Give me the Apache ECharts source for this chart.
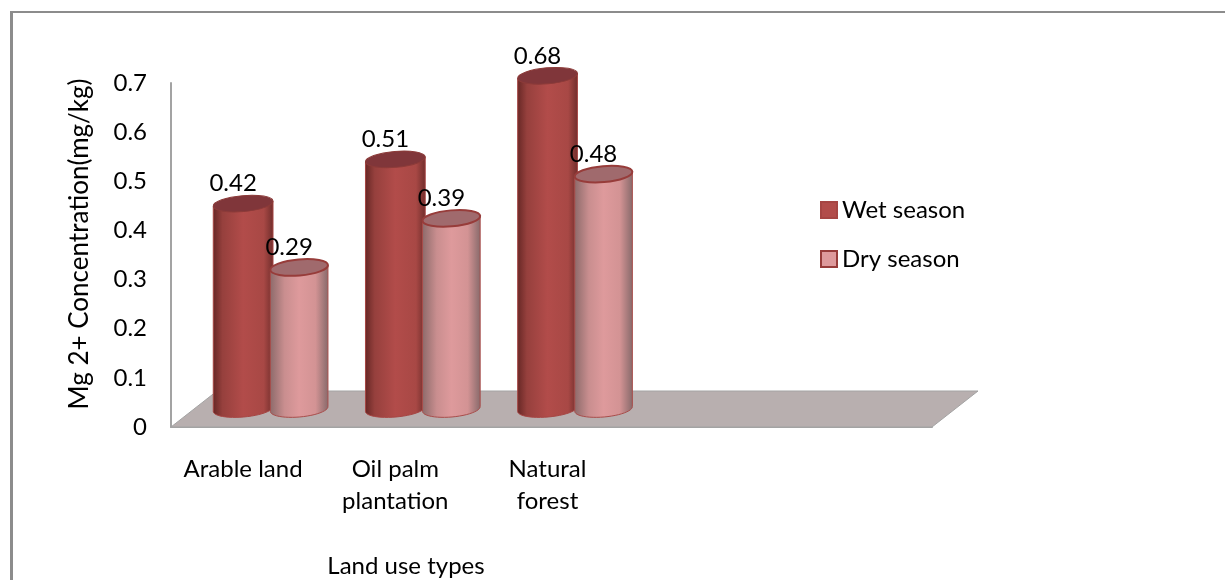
<!DOCTYPE html>
<html>
<head>
<meta charset="utf-8">
<title>Mg 2+ Concentration</title>
<script src="https://cdn.jsdelivr.net/npm/echarts@6/dist/echarts.min.js"></script>
<style>
	html, body { margin: 0; padding: 0; background: #fff; }
	#chart { width: 1225px; height: 580px; }
</style>
</head>
<body>
<div id="chart"></div>
<script>
const categories = ['Arable land', 'Oil palm\nplantation', 'Natural\nforest', '', ''];
const wetSeason = [0.42, 0.51, 0.68];
const drySeason = [0.29, 0.39, 0.48];
const yTicks = ['0', '0.1', '0.2', '0.3', '0.4', '0.5', '0.6', '0.7'];

const FONT = 'Lato, Carlito, sans-serif';
// 3D look: how far the floor runs back and how far the bars stand on it
const DEPTH_X = 46;
const DEPTH_Y = 36;
const BAR_LIFT = 17;
const TILT = -5 * Math.PI / 180;

function ellipsePoint(cx, cy, rx, ry, t) {
	return [
		cx + rx * Math.cos(t) * Math.cos(TILT) - ry * Math.sin(t) * Math.sin(TILT),
		cy + rx * Math.cos(t) * Math.sin(TILT) + ry * Math.sin(t) * Math.cos(TILT)
	];
}

function cylinder(look) {
	return function (params, api) {
		const value = api.value(1);
		const top = api.coord([api.value(0), value]);
		const base = api.coord([api.value(0), 0]);
		const band = api.size([1, 0])[0];
		const cx = top[0] + band * look.shift;
		const rx = band * look.radius;
		const ry = 8;
		const topY = top[1] - BAR_LIFT;
		const baseY = base[1] - BAR_LIFT - 1;

		const body = [ellipsePoint(cx, topY, rx, ry, Math.PI), ellipsePoint(cx, topY, rx, ry, 0)];
		for (let i = 0; i <= 24; i++) {
			body.push(ellipsePoint(cx, baseY, rx, ry, (i / 24) * Math.PI));
		}

		return {
			type: 'group',
			children: [
				{
					type: 'polygon',
					shape: { points: body },
					style: {
						fill: new echarts.graphic.LinearGradient(0, 0, 1, 0, look.stops),
						stroke: look.edge,
						lineWidth: 1
					}
				},
				{
					type: 'ellipse',
					shape: { cx: 0, cy: 0, rx: rx, ry: ry },
					x: cx,
					y: topY,
					rotation: -TILT,
					style: { fill: look.cap, stroke: look.capEdge, lineWidth: look.capWidth }
				},
				{
					type: 'text',
					x: cx - 10,
					y: topY - 20,
					style: {
						text: String(value),
						fill: '#000',
						font: '24px ' + FONT,
						textAlign: 'center',
						textVerticalAlign: 'middle'
					}
				}
			]
		};
	};
}

// 地面
function floor(params) {
	const box = params.coordSys;
	const left = box.x;
	const right = box.x + box.width;
	const bottom = box.y + box.height;
	return {
		type: 'group',
		children: [
			{
				type: 'polygon',
				shape: {
					points: [
						[left, bottom],
						[right, bottom],
						[right + DEPTH_X, bottom - DEPTH_Y],
						[left + DEPTH_X, bottom - DEPTH_Y]
					]
				},
				style: { fill: '#b8afaf', stroke: '#a3a3a3', lineWidth: 1 }
			}
		]
	};
}

const wetLook = {
	shift: -0.026,
	radius: 0.197,
	stops: [
		{ offset: 0, color: '#662725' },
		{ offset: 0.16, color: '#96403d' },
		{ offset: 0.5, color: '#b24c4a' },
		{ offset: 0.84, color: '#a84845' },
		{ offset: 1, color: '#6f2d2b' }
	],
	edge: '#a64543',
	cap: '#80363a',
	capEdge: '#8c3b39',
	capWidth: 1
};
const dryLook = {
	shift: 0.342,
	radius: 0.19,
	stops: [
		{ offset: 0, color: '#8c6a6a' },
		{ offset: 0.25, color: '#c98e8f' },
		{ offset: 0.5, color: '#de9a9c' },
		{ offset: 0.78, color: '#d39394' },
		{ offset: 1, color: '#86696a' }
	],
	edge: '#a94d4b',
	cap: '#a06a6d',
	capEdge: '#973c3a',
	capWidth: 2
};

const chart = echarts.init(document.getElementById('chart'), null, { renderer: 'canvas' });
chart.setOption({
	animation: false,
	grid: { left: 171, right: 293, top: 83, bottom: 153 },
	legend: {
		left: 820,
		top: 198,
		padding: 0,
		orient: 'vertical',
		itemWidth: 16,
		itemHeight: 16,
		itemGap: 25,
		textStyle: { fontFamily: FONT, fontSize: 24, lineHeight: 24, color: '#000' },
		data: [
			{ name: 'Wet season', icon: 'rect', itemStyle: { color: '#b24c4a', borderColor: '#a64543', borderWidth: 2 } },
			{ name: 'Dry season', icon: 'rect', itemStyle: { color: '#de9a9c', borderColor: '#973c3a', borderWidth: 2 } }
		]
	},
	xAxis: {
		type: 'category',
		data: categories,
		axisTick: { show: false },
		axisLine: { lineStyle: { color: '#a3a3a3', width: 2 } },
		axisLabel: {
			interval: 0,
			margin: 26,
			color: '#000',
			fontFamily: FONT,
			fontSize: 24,
			lineHeight: 32,
			padding: [0, 8, 0, 0]
		}
	},
	yAxis: {
		type: 'value',
		min: 0,
		max: 0.7,
		interval: 0.1,
		name: 'Mg 2+ Concentration(mg/kg)',
		nameLocation: 'middle',
		nameGap: 78,
		nameTextStyle: { color: '#000', fontFamily: FONT, fontSize: 26, padding: [0, 0, 0, 22] },
		splitLine: { show: false },
		axisTick: { show: false },
		axisLine: { show: true, lineStyle: { color: '#a3a3a3', width: 2 } },
		axisLabel: {
			margin: 24,
			color: '#000',
			fontFamily: FONT,
			fontSize: 24,
			padding: [8, 0, 0, 0],
			formatter: (v, i) => yTicks[i]
		}
	},
	graphic: [
		{ type: 'rect', shape: { x: 10, y: 11, width: 1215, height: 2 }, style: { fill: '#8c8c8c' }, silent: true },
		{ type: 'rect', shape: { x: 10, y: 11, width: 3, height: 569 }, style: { fill: '#8c8c8c' }, silent: true },
		{
			type: 'text',
			x: 406,
			y: 566,
			style: {
				text: 'Land use types',
				fill: '#000',
				font: '24px ' + FONT,
				textAlign: 'center',
				textVerticalAlign: 'middle'
			}
		}
	],
	series: [
		{ name: 'floor', type: 'custom', renderItem: floor, data: [[0, 0]], z: 1, silent: true },
		{
			name: 'Wet season',
			type: 'custom',
			renderItem: cylinder(wetLook),
			encode: { x: 0, y: 1 },
			data: wetSeason.map((v, i) => [i, v]),
			itemStyle: { color: '#b24c4a' },
			z: 2
		},
		{
			name: 'Dry season',
			type: 'custom',
			renderItem: cylinder(dryLook),
			encode: { x: 0, y: 1 },
			data: drySeason.map((v, i) => [i, v]),
			itemStyle: { color: '#de9a9c' },
			z: 3
		}
	]
});
</script>
</body>
</html>
